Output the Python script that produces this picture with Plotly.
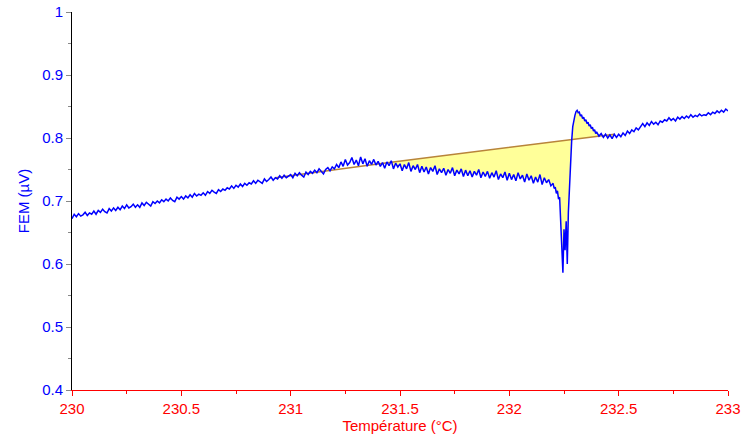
import plotly.graph_objects as go

# ---- data ----
# signal sampled every 0.01 °C, rows start at the given temperature
row_starts = [230.0, 230.1, 230.2, 230.3, 230.4, 230.5, 230.6, 230.7, 230.8, 230.9,
              231.0, 231.1, 231.2, 231.3, 231.4, 231.5, 231.6, 231.7, 231.8, 231.9,
              232.0, 232.1]
rows = [
    [0.672, 0.679, 0.675, 0.680, 0.676, 0.678, 0.682, 0.677, 0.681, 0.679],
    [0.684, 0.679, 0.685, 0.682, 0.687, 0.683, 0.681, 0.688, 0.684, 0.689],
    [0.685, 0.690, 0.686, 0.692, 0.688, 0.694, 0.689, 0.691, 0.695, 0.690],
    [0.694, 0.690, 0.697, 0.693, 0.698, 0.695, 0.692, 0.699, 0.696, 0.700],
    [0.697, 0.702, 0.699, 0.703, 0.700, 0.705, 0.701, 0.699, 0.706, 0.703],
    [0.707, 0.703, 0.708, 0.705, 0.710, 0.706, 0.712, 0.708, 0.711, 0.709],
    [0.713, 0.709, 0.715, 0.712, 0.717, 0.714, 0.712, 0.718, 0.715, 0.719],
    [0.717, 0.721, 0.719, 0.724, 0.720, 0.725, 0.722, 0.727, 0.723, 0.728],
    [0.725, 0.729, 0.727, 0.732, 0.728, 0.733, 0.730, 0.728, 0.735, 0.731],
    [0.734, 0.738, 0.733, 0.737, 0.735, 0.740, 0.736, 0.741, 0.737, 0.739],
    [0.742, 0.737, 0.744, 0.740, 0.745, 0.741, 0.738, 0.746, 0.742, 0.747],
    [0.744, 0.749, 0.745, 0.751, 0.747, 0.743, 0.750, 0.753, 0.748, 0.754],
    [0.751, 0.758, 0.753, 0.762, 0.755, 0.766, 0.757, 0.761, 0.769, 0.758],
    [0.765, 0.756, 0.770, 0.759, 0.767, 0.755, 0.764, 0.758, 0.766, 0.757],
    [0.763, 0.755, 0.761, 0.752, 0.762, 0.756, 0.764, 0.751, 0.760, 0.754],
    [0.759, 0.748, 0.758, 0.751, 0.761, 0.747, 0.756, 0.750, 0.758, 0.745],
    [0.755, 0.746, 0.754, 0.743, 0.753, 0.747, 0.756, 0.742, 0.751, 0.745],
    [0.752, 0.741, 0.750, 0.744, 0.753, 0.740, 0.749, 0.743, 0.751, 0.739],
    [0.749, 0.740, 0.748, 0.738, 0.747, 0.741, 0.750, 0.737, 0.746, 0.739],
    [0.747, 0.736, 0.745, 0.738, 0.748, 0.734, 0.743, 0.737, 0.746, 0.733],
    [0.744, 0.734, 0.742, 0.732, 0.745, 0.735, 0.741, 0.730, 0.743, 0.733],
    [0.740, 0.728, 0.738, 0.730, 0.742, 0.726, 0.737, 0.729, 0.734, 0.724],
]

# spike / melting peak region
spike_x = [232.20, 232.205, 232.21, 232.215, 232.22, 232.225, 232.23, 232.235,
           232.24, 232.245, 232.25, 232.255, 232.26, 232.265, 232.27, 232.275,
           232.28, 232.285, 232.29, 232.295, 232.30, 232.305, 232.31, 232.315,
           232.32, 232.325, 232.33, 232.335, 232.34, 232.345, 232.35, 232.355,
           232.36, 232.365, 232.37, 232.375, 232.38, 232.385, 232.39, 232.395,
           232.40, 232.41, 232.42, 232.43, 232.44, 232.45, 232.46, 232.47,
           232.48, 232.49]
spike_y = [0.728, 0.720, 0.722, 0.712, 0.716, 0.703, 0.706, 0.672,
           0.640, 0.586, 0.655, 0.622, 0.668, 0.600, 0.682, 0.725,
           0.770, 0.795, 0.818, 0.830, 0.836, 0.842, 0.844, 0.840,
           0.841, 0.835, 0.837, 0.831, 0.833, 0.827, 0.829, 0.823,
           0.825, 0.819, 0.821, 0.815, 0.817, 0.811, 0.813, 0.807,
           0.809, 0.803, 0.807, 0.801, 0.806, 0.800, 0.805, 0.799,
           0.806, 0.801]

tail_starts = [232.5, 232.6, 232.7, 232.8, 232.9]
tail_rows = [
    [0.806, 0.802, 0.808, 0.804, 0.811, 0.807, 0.813, 0.810, 0.816, 0.813],
    [0.819, 0.823, 0.818, 0.824, 0.820, 0.826, 0.822, 0.825, 0.821, 0.827],
    [0.825, 0.829, 0.827, 0.832, 0.828, 0.831, 0.827, 0.833, 0.830, 0.834],
    [0.831, 0.835, 0.832, 0.837, 0.833, 0.836, 0.834, 0.838, 0.835, 0.837],
    [0.836, 0.840, 0.837, 0.841, 0.839, 0.843, 0.840, 0.844, 0.841, 0.846],
]
end_x = [233.0]
end_y = [0.843]

# baseline (interpolation line under the peak)
baseline_x = [230.93, 231.45, 232.48]
baseline_y = [0.737, 0.761, 0.806]

fill_start = 231.45
fill_end = 232.48

# ---- assemble signal ----
sig_x, sig_y = [], []
for s, r in zip(row_starts, rows):
    for i, v in enumerate(r):
        sig_x.append(round(s + i * 0.01, 3))
        sig_y.append(v)
sig_x += spike_x
sig_y += spike_y
for s, r in zip(tail_starts, tail_rows):
    for i, v in enumerate(r):
        sig_x.append(round(s + i * 0.01, 3))
        sig_y.append(v)
sig_x += end_x
sig_y += end_y

# fill polygon: signal between fill_start and fill_end, closed along baseline
poly_x = [x for x in sig_x if fill_start <= x <= fill_end]
poly_y = [y for x, y in zip(sig_x, sig_y) if fill_start <= x <= fill_end]
poly_x += [baseline_x[2], baseline_x[1]]
poly_y += [baseline_y[2], baseline_y[1]]

fig = go.Figure()
fig.add_trace(go.Scatter(x=poly_x, y=poly_y, fill="toself", mode="none",
                         fillcolor="#FFFF99", hoverinfo="skip", showlegend=False))
fig.add_trace(go.Scatter(x=baseline_x, y=baseline_y, mode="lines",
                         line=dict(color="#B8843A", width=1.5), showlegend=False))
fig.add_trace(go.Scatter(x=sig_x, y=sig_y, mode="lines",
                         line=dict(color="#0000FF", width=1.5), showlegend=False))

font = "Liberation Sans, Arial, sans-serif"
fig.update_layout(
    width=749, height=435,
    margin=dict(l=72, r=21, t=12, b=45, autoexpand=False),
    paper_bgcolor="white", plot_bgcolor="white",
    font=dict(family=font, size=15),
    showlegend=False,
)
fig.update_xaxes(
    range=[230, 233], tickvals=[230, 230.5, 231, 231.5, 232, 232.5, 233],
    ticktext=["230", "230.5", "231", "231.5", "232", "232.5", "233"],
    showgrid=False, zeroline=False, automargin=False,
    showline=True, linecolor="#FF0000", linewidth=1,
    ticks="outside", ticklen=5, tickcolor="#FF0000",
    tickfont=dict(color="#FF0000", size=15, family=font),
    ticklabeloverflow="allow",
    minor=dict(dtick=0.25, ticks="outside", ticklen=3, tickcolor="#FF0000"),
    title=dict(text="Température (°C)", font=dict(color="#FF0000", size=15, family=font),
               standoff=0),
)
fig.update_yaxes(
    range=[0.4, 1.0], tickvals=[0.4, 0.5, 0.6, 0.7, 0.8, 0.9, 1.0],
    ticktext=["0.4", "0.5", "0.6", "0.7", "0.8", "0.9", "1"],
    showgrid=False, zeroline=False, automargin=False,
    showline=True, linecolor="#000000", linewidth=1,
    ticks="outside", ticklen=5, tickcolor="#888888",
    tickfont=dict(color="#0000FF", size=15, family=font),
    ticklabeloverflow="allow",
    minor=dict(dtick=0.05, ticks="outside", ticklen=3, tickcolor="#888888"),
    title=dict(text="FEM (µV)", font=dict(color="#0000FF", size=15, family=font),
               standoff=8),
)

# remove the browser's default 8px body margin so the figure sits at (0, 0)
fig.write_html("out.html", config={"displayModeBar": False},
               post_script="document.body.style.margin='0px';")
